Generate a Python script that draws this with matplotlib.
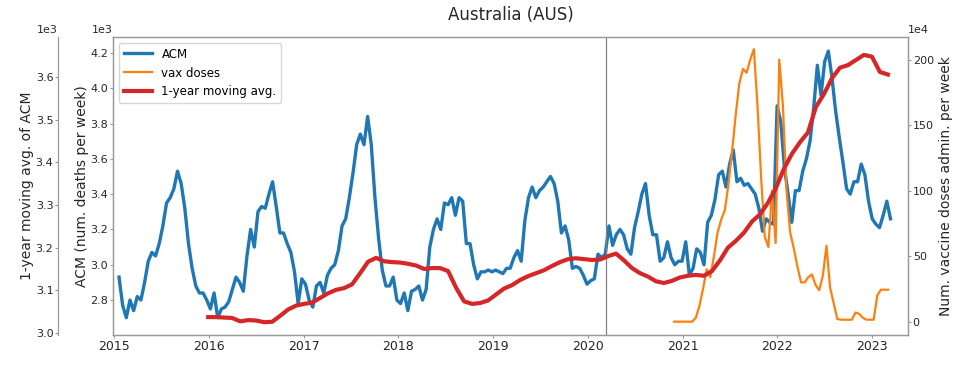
import matplotlib
matplotlib.use('Agg')
import matplotlib.pyplot as plt
import matplotlib.dates as mdates
import numpy as np
import pandas as pd

acm = [
    2930, 2770, 2700, 2800, 2740, 2820, 2800, 2900, 3020, 3070, 3050, 3120, 3220,
    3350, 3380, 3430, 3530, 3460, 3320, 3120, 2980, 2880, 2840, 2840, 2800, 2750,
    2840, 2700, 2750, 2760, 2790, 2860, 2930, 2900, 2850, 3050, 3200, 3100, 3300,
    3330, 3320, 3400, 3470, 3330, 3180, 3180, 3120, 3070, 2960, 2780, 2920, 2890,
    2800, 2760, 2880, 2900, 2840, 2940, 2980, 3000, 3080, 3220, 3260, 3380, 3520,
    3680, 3740, 3680, 3840, 3680, 3380, 3150, 2970, 2880, 2880, 2930, 2800, 2780,
    2840, 2740, 2850, 2860, 2880, 2800, 2860, 3100, 3200, 3260, 3200, 3350, 3340,
    3380, 3280, 3380, 3360, 3120, 3120, 3000, 2920, 2960, 2960, 2970, 2960, 2970,
    2960, 2950, 2980, 2980, 3040, 3080, 3020, 3250, 3380, 3440, 3380, 3420, 3440,
    3470, 3500, 3460, 3360, 3180, 3220, 3140, 2980, 2990, 2980, 2940, 2890, 2910,
    2920, 3060, 3040, 3060, 3220, 3110, 3170, 3200, 3170, 3090, 3060, 3210, 3300,
    3400, 3460, 3280, 3170, 3170, 3020, 3040, 3130, 3040, 3000, 3020, 3020, 3130,
    2940, 2980, 3090, 3070, 3000, 3240, 3280, 3370, 3510, 3530, 3440, 3570, 3650,
    3470, 3490, 3450, 3460, 3430, 3400, 3320, 3190, 3260, 3240, 3230, 3900, 3810,
    3550, 3400, 3240, 3420, 3420, 3530, 3600, 3700, 3890, 4130, 3960, 4150, 4210,
    4060, 3870, 3720, 3580, 3430, 3400, 3470, 3470, 3570, 3510, 3360, 3260, 3230,
    3210, 3280, 3360, 3260,
]
acm_dates = pd.date_range('2015-01-19', '2023-03-14', periods=len(acm))

# 1-year moving average of ACM, monthly, 2016-01 .. 2023-02
acm_avg = [
    3037, 3037, 3036, 3035, 3027, 3030, 3029, 3025, 3026, 3040, 3055, 3064,
    3068, 3071, 3082, 3093, 3101, 3105, 3114, 3140, 3167, 3176, 3168, 3166,
    3165, 3162, 3158, 3150, 3152, 3152, 3145, 3106, 3074, 3068, 3070, 3076,
    3090, 3104, 3112, 3124, 3133, 3140, 3147, 3157, 3166, 3173, 3175, 3173,
    3171, 3172, 3180, 3186, 3170, 3152, 3140, 3132, 3121, 3117, 3122, 3130,
    3134, 3136, 3134, 3145, 3170, 3200, 3216, 3235, 3261, 3278, 3305, 3340,
    3385, 3420, 3447, 3470, 3530, 3560, 3597, 3622, 3628, 3640, 3652, 3648,
    3612, 3606,
]
avg_dates = pd.date_range('2015-12-29', '2023-03-04', periods=len(acm_avg))

# vaccine doses administered per week, in units of 1e4, every 2 weeks from 2020-11-29
vax_1e4 = [
    0, 0, 0, 0, 0, 0, 3, 12, 25, 40, 34, 50, 68, 78, 85, 105, 130, 158, 182, 193,
    190, 200, 208, 165, 110, 65, 57, 100, 60, 200, 165, 100, 68, 56, 42, 30, 30, 34,
    36, 28, 24, 35, 58, 26, 14, 2, 1.5, 1.5, 1.5, 1.5, 7, 6, 3, 1.5, 1.5, 1.5, 20,
    24.4, 24.4, 24.4,
]
vax_dates = pd.date_range('2020-11-29', periods=len(vax_1e4), freq='14D')

pandemic_start = pd.Timestamp('2020-03-11')

spine_col = '0.6'
text_col = '0.15'

fig = plt.figure(figsize=(9.72, 3.76), dpi=100)
ax = fig.add_axes([0.1163, 0.109, 0.8177, 0.7926])
ax_vax = ax.twinx()
ax_avg = ax.twinx()

l1, = ax.plot(acm_dates, acm, color='#1f77b4', lw=2.4)
l2, = ax_vax.plot(vax_dates, np.array(vax_1e4) * 1e4, color='#ff7f0e', lw=1.6)
l3, = ax_avg.plot(avg_dates, acm_avg, color='#d62728', lw=3)
ax.axvline(pandemic_start, color='0.5', lw=0.9)

ax.set_xlim(pd.Timestamp('2014-12-27'), pd.Timestamp('2023-05-20'))
ax.set_ylim(2602, 4290)
ax_avg.set_ylim(2995, 3694)
ax_vax.set_ylim(-102000, 2173000)

ax.set_yticks(np.arange(2800, 4201, 200))
ax_avg.set_yticks(np.arange(3000, 3601, 100))
ax_vax.set_yticks(np.arange(0, 2000001, 500000))

ax.xaxis.set_major_locator(mdates.YearLocator())
ax.xaxis.set_major_formatter(mdates.DateFormatter('%Y'))

ax.ticklabel_format(axis='y', style='sci', scilimits=(3, 3))
ax_avg.ticklabel_format(axis='y', style='sci', scilimits=(3, 3))
ax_vax.ticklabel_format(axis='y', style='sci', scilimits=(4, 4))

# outer left axis for the moving average
ax_avg.spines['left'].set_position(('axes', -0.069))
ax_avg.yaxis.tick_left()
ax_avg.yaxis.set_label_position('left')
for s in ['right', 'top', 'bottom']:
    ax_avg.spines[s].set_visible(False)

for a in [ax, ax_vax, ax_avg]:
    for s in a.spines.values():
        s.set_color(spine_col)
        s.set_linewidth(0.9)
    a.tick_params(axis='y', labelsize=8, length=2, pad=1.5,
                  color=spine_col, labelcolor=text_col)
ax.tick_params(axis='x', labelsize=9, length=2, pad=1.5,
               color=spine_col, labelcolor=text_col)

ax.set_ylabel('ACM (num. deaths per week)', fontsize=10, color=text_col, labelpad=1)
ax_avg.set_ylabel('1-year moving avg. of ACM', fontsize=10, color=text_col, labelpad=1.5)
ax_vax.set_ylabel('Num. vaccine doses admin. per week', fontsize=10, color=text_col,
                  labelpad=3.5)
ax.set_title('Australia (AUS)', fontsize=12, pad=12, color=text_col)

for a, x, ha in [(ax, 0, 'right'), (ax_avg, -0.069, 'right'), (ax_vax, 1, 'left')]:
    off = a.yaxis.get_offset_text()
    off.set_x(x)
    off.set_ha(ha)
    off.set_fontsize(8)
    off.set_color(text_col)

ax_avg.legend([l1, l2, l3], ['ACM', 'vax doses', '1-year moving avg.'],
              loc='upper left', fontsize=8.5, handlelength=2.4)

fig.savefig('out.png', dpi=100)
